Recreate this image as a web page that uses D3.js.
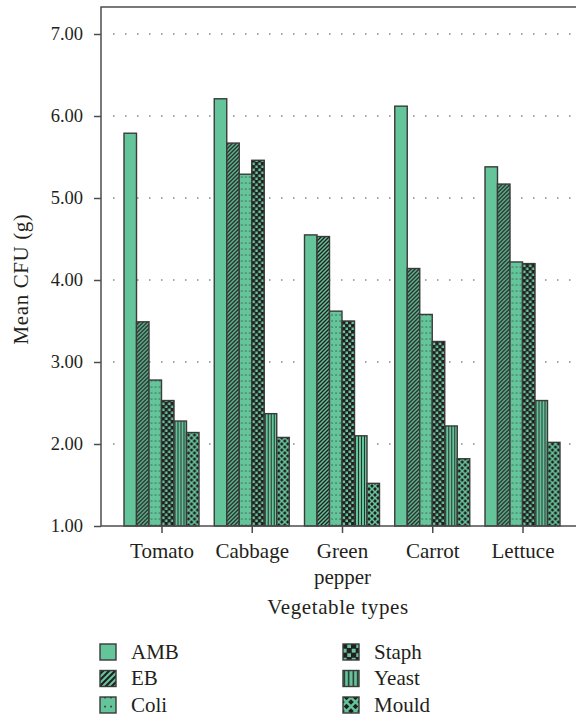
<!DOCTYPE html>
<html>
<head>
<meta charset="utf-8">
<script src="https://cdn.jsdelivr.net/npm/d3@7"></script>
<style>
  html, body { margin: 0; padding: 0; background: #fff; }
  svg { display: block; }
  text { font-family: "Liberation Serif", "Times New Roman", serif; fill: #231f20; }
</style>
</head>
<body>
<svg id="chart" width="576" height="718"></svg>
<script>
const categories = ["Tomato", "Cabbage", "Green pepper", "Carrot", "Lettuce"];
const seriesNames = ["AMB", "EB", "Coli", "Staph", "Yeast", "Mould"];
const AMB   = [5.79, 6.21, 4.55, 6.12, 5.38];
const EB    = [3.49, 5.67, 4.53, 4.14, 5.17];
const Coli  = [2.78, 5.29, 3.62, 3.58, 4.22];
const Staph = [2.53, 5.46, 3.50, 3.25, 4.20];
const Yeast = [2.28, 2.37, 2.10, 2.22, 2.53];
const Mould = [2.14, 2.08, 1.52, 1.82, 2.02];
const yTicks = [1, 2, 3, 4, 5, 6, 7];
const seriesValues = [AMB, EB, Coli, Staph, Yeast, Mould];

const GREEN = "#64c49a";
const DARK = "#231f20";
const FONT = "'Liberation Serif', 'Times New Roman', serif";
const svg = d3.select("#chart");
const defs = svg.append("defs");

function makePatterns(suffix, scale) {
  const mk = (id, w, h) => {
    const p = defs.append("pattern").attr("id", id + suffix)
      .attr("patternUnits", "userSpaceOnUse").attr("width", w).attr("height", h);
    if (scale !== 1) p.attr("patternTransform", `scale(${scale})`);
    p.append("rect").attr("width", w).attr("height", h).attr("fill", GREEN);
    return p;
  };
  let p = mk("EB", 4, 4);
  p.append("path").attr("d", "M-1,1 L1,-1 M0,4 L4,0 M3,5 L5,3").attr("stroke", DARK).attr("stroke-width", 1.4);
  p = mk("Coli", 4, 6);
  p.append("rect").attr("x", 1.5).attr("y", 2.5).attr("width", 1.1).attr("height", 1.1).attr("fill", DARK).attr("opacity", 0.85);
  p = mk("Staph", 6, 6);
  p.select("rect").attr("fill", DARK);
  p.append("rect").attr("x", 0.5).attr("y", 0.5).attr("width", 2.6).attr("height", 2.6).attr("fill", GREEN);
  p.append("rect").attr("x", 3.5).attr("y", 3.5).attr("width", 2.6).attr("height", 2.6).attr("fill", GREEN);
  p = mk("Yeast", 3, 3);
  p.append("line").attr("x1", 1.5).attr("x2", 1.5).attr("y1", 0).attr("y2", 3).attr("stroke", DARK).attr("stroke-width", 0.9);
  p = mk("Mould", 6, 6);
  p.append("path").attr("d", "M3,1.1 L4.9,3 L3,4.9 L1.1,3 Z").attr("fill", DARK);
  p.append("path").attr("d", "M0,-1.9 L1.9,0 L0,1.9 L-1.9,0 Z M6,-1.9 L7.9,0 L6,1.9 L4.1,0 Z M0,4.1 L1.9,6 L0,7.9 L-1.9,6 Z M6,4.1 L7.9,6 L6,7.9 L4.1,6 Z").attr("fill", DARK);
}
makePatterns("", 1);
makePatterns("L", 1.5);

const fills = { AMB: GREEN, EB: "url(#EB)", Coli: "url(#Coli)", Staph: "url(#Staph)", Yeast: "url(#Yeast)", Mould: "url(#Mould)" };
const fillsL = { AMB: GREEN, EB: "url(#EBL)", Coli: "url(#ColiL)", Staph: "url(#StaphL)", Yeast: "url(#YeastL)", Mould: "url(#MouldL)" };

const plotL = 101, plotR = 590, plotT = 7, plotB = 526;
const y = d3.scaleLinear().domain([1, 7]).range([plotB, 34]);
const x = d3.scalePoint().domain(categories).range([161.5, 522.5]);
const xInner = d3.scaleBand().domain(seriesNames).range([-37.5, 37.5]).padding(0);

svg.append("g").selectAll("line").data(yTicks.filter(d => d > 1)).join("line")
  .attr("x1", 113).attr("x2", plotR)
  .attr("y1", d => y(d)).attr("y2", d => y(d))
  .attr("stroke", "#888").attr("stroke-width", 1.5)
  .attr("stroke-dasharray", "1.5,10.5");

const groups = svg.append("g").selectAll("g").data(categories).join("g")
  .attr("transform", d => `translate(${x(d)},0)`);
groups.selectAll("rect").data((c, i) => seriesNames.map((s, j) => ({ s, v: seriesValues[j][i] }))).join("rect")
  .attr("x", d => xInner(d.s))
  .attr("width", xInner.bandwidth())
  .attr("y", d => y(d.v))
  .attr("height", d => y(1) - y(d.v))
  .attr("fill", d => fills[d.s])
  .attr("stroke", "#3a3a3a").attr("stroke-width", 1.4);

svg.append("rect").attr("x", plotL).attr("y", plotT).attr("width", plotR - plotL).attr("height", plotB - plotT)
  .attr("fill", "none").attr("stroke", "#4d4d4d").attr("stroke-width", 1.5);

const yAxis = svg.append("g").attr("transform", `translate(${plotL},0)`)
  .call(d3.axisLeft(y).tickValues(yTicks).tickFormat(d3.format(".2f")).tickSize(7).tickPadding(11));
yAxis.attr("font-family", FONT);
yAxis.select(".domain").remove();
yAxis.selectAll("line").attr("stroke", "#4d4d4d").attr("stroke-width", 1.5);
yAxis.selectAll("text").attr("font-size", 18.5).attr("fill", DARK).attr("font-family", FONT);

const xAxis = svg.append("g").attr("transform", `translate(0,${plotB})`)
  .call(d3.axisBottom(x).tickSize(7).tickPadding(0));
xAxis.attr("font-family", FONT);
xAxis.select(".domain").remove();
xAxis.selectAll("line").attr("stroke", "#4d4d4d").attr("stroke-width", 1.5);
xAxis.selectAll("text").remove();
xAxis.selectAll(".tick").each(function (d) {
  const words = d === "Green pepper" ? ["Green", "pepper"] : [d];
  const t = d3.select(this).append("text").attr("text-anchor", "middle").attr("font-size", 21)
    .attr("fill", DARK).attr("font-family", FONT);
  words.forEach((w, i) => t.append("tspan").attr("x", 0).attr("y", 32 + i * 26).text(w));
});

svg.append("text").attr("x", 338).attr("y", 614).attr("text-anchor", "middle").attr("font-size", 21)
  .attr("letter-spacing", 0.6).attr("font-family", FONT).text("Vegetable types");
svg.append("text").attr("transform", "translate(28,279) rotate(-90)").attr("text-anchor", "middle").attr("font-size", 21)
  .attr("letter-spacing", 0.6).attr("font-family", FONT).text("Mean CFU (g)");

const legend = svg.append("g");
seriesNames.forEach((s, i) => {
  const col = Math.floor(i / 3), row = i % 3;
  const gx = col === 0 ? 100 : 343, gy = 644 + row * 26.5;
  legend.append("rect").attr("x", gx).attr("y", gy).attr("width", 16).attr("height", 16)
    .attr("fill", fillsL[s]).attr("stroke", "#3a3a3a").attr("stroke-width", 1.4);
  legend.append("text").attr("x", gx + 31).attr("y", gy + 14.5).attr("font-size", 21)
    .attr("font-family", FONT).text(s);
});
</script>
</body>
</html>
